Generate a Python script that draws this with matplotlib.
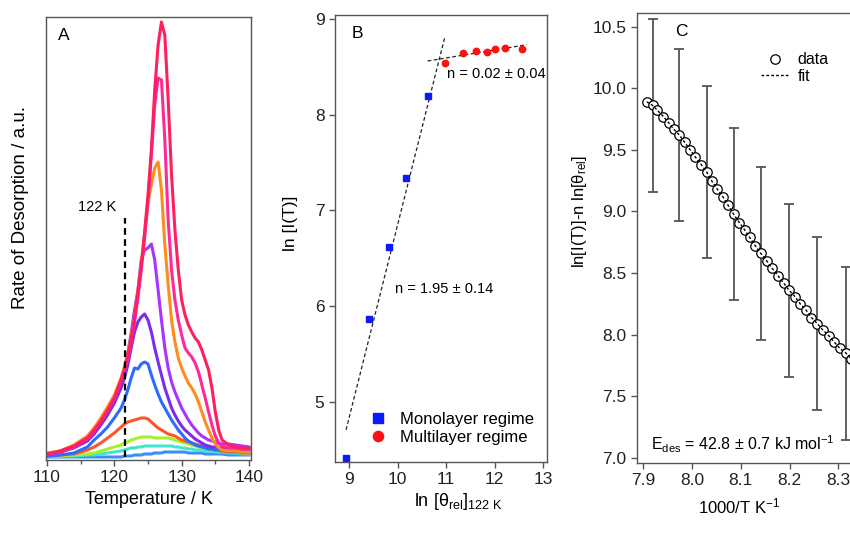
import numpy as np
import matplotlib
matplotlib.use("Agg")
import matplotlib.pyplot as plt

plt.rcParams['font.family'] = ['Liberation Sans', 'DejaVu Sans']
plt.rcParams['mathtext.fontset'] = 'custom'
plt.rcParams['mathtext.rm'] = 'Liberation Sans'
plt.rcParams['mathtext.it'] = 'Liberation Sans'
plt.rcParams['mathtext.default'] = 'regular'

# ---- panel A: TPD traces (a.u.) ----
temp = [110, 112, 114, 116, 117, 118, 119, 120, 121, 121.5, 122, 122.5, 123, 123.5,
        124, 124.5, 125, 125.5, 126, 126.5, 127, 127.5, 128, 128.5, 129, 129.5, 130,
        130.5, 131, 131.5, 132, 132.5, 133, 133.5, 134, 134.5, 135, 135.5, 136, 137,
        138, 139, 140]

rate_lightblue = [3, 3, 3, 3, 3, 3, 3, 3, 3, 4, 4, 4, 5, 5, 5, 6, 6, 6, 7, 7, 7, 8, 8, 8,
                  8, 8, 8, 8, 7, 7, 7, 7, 7, 6, 6, 6, 6, 6, 6, 5, 5, 5, 5]
rate_cyan = [4, 4, 4, 5, 5, 6, 7, 8, 9, 10, 11, 12, 12, 13, 13, 14, 14, 14, 14, 14, 14, 14,
             14, 14, 13, 13, 12, 12, 11, 11, 10, 10, 10, 9, 9, 9, 8, 8, 8, 7, 7, 6, 6]
rate_green = [4, 4, 5, 6, 7, 9, 11, 13, 15, 17, 18, 20, 21, 22, 23, 23, 23, 23, 22, 22, 22,
              22, 22, 21, 20, 19, 18, 17, 16, 15, 14, 13, 12, 12, 11, 11, 10, 10, 9, 8, 8, 7, 7]
rate_orangered = [4, 5, 6, 10, 13, 17, 22, 27, 33, 36, 38, 39, 40, 41, 42, 42, 41, 38, 35,
                  32, 30, 28, 26, 25, 24, 22, 20, 19, 18, 17, 16, 15, 14, 13, 12, 11, 10,
                  10, 9, 8, 8, 7, 7]
rate_blue = [4, 5, 7, 13, 20, 26, 33, 42, 52, 60, 70, 82, 92, 91, 96, 98, 96, 85, 75, 66,
             58, 52, 46, 40, 35, 30, 26, 22, 19, 17, 15, 14, 13, 12, 11, 11, 10, 10, 10, 9,
             9, 9, 9]
rate_violet = [6, 8, 12, 19, 26, 35, 45, 57, 72, 82, 95, 112, 128, 138, 143, 146, 140, 128,
               112, 98, 85, 72, 62, 52, 45, 39, 34, 30, 27, 24, 21, 19, 17, 15, 14, 13, 13,
               12, 12, 12, 12, 11, 11]
rate_purple = [6, 9, 14, 22, 30, 40, 50, 62, 80, 92, 107, 127, 150, 170, 200, 210, 212, 216,
               200, 170, 140, 112, 92, 78, 68, 60, 52, 46, 40, 35, 31, 27, 24, 22, 20, 19,
               18, 17, 16, 16, 15, 14, 13]
rate_orange = [7, 9, 15, 24, 32, 42, 53, 65, 82, 93, 106, 123, 143, 168, 196, 226, 258, 275,
               292, 298, 270, 215, 175, 140, 118, 102, 92, 84, 77, 72, 66, 58, 48, 38, 30,
               22, 16, 12, 10, 9, 9, 8, 8]
rate_pink = [6, 8, 13, 21, 29, 38, 49, 61, 79, 89, 101, 118, 138, 162, 190, 222, 258, 305,
             355, 382, 380, 320, 240, 190, 160, 140, 125, 112, 107, 103, 97, 88, 75, 62, 48,
             35, 24, 17, 14, 12, 12, 11, 11]
rate_red = [6, 9, 14, 22, 30, 39, 50, 62, 80, 91, 104, 121, 142, 167, 195, 228, 265, 310,
            370, 415, 438, 425, 360, 285, 230, 190, 160, 145, 135, 128, 122, 118, 110, 100,
            90, 72, 48, 30, 20, 15, 13, 12, 12]

traces = [rate_lightblue, rate_cyan, rate_green, rate_orangered, rate_blue,
          rate_violet, rate_purple, rate_orange, rate_pink, rate_red]
trace_colors = ['#3a8cff', '#3ee6d2', '#a6f02a', '#ff5528', '#2b6bff',
                '#7a2cf0', '#a834ff', '#ff8c1e', '#ff2a9a', '#ff1f5f']

cut_temp = 121.6
cut_range = [3, 242]

# ---- panel B: reaction order ----
mono_x = [8.94, 9.42, 9.82, 10.17, 10.63]
mono_y = [4.42, 5.87, 6.62, 7.34, 8.19]
multi_x = [10.98, 11.34, 11.61, 11.85, 12.00, 12.22, 12.57]
multi_y = [8.54, 8.64, 8.66, 8.65, 8.69, 8.70, 8.69]
mono_fit_x = [8.94, 10.97]
mono_fit_y = [4.71, 8.80]
multi_fit_x = [10.62, 12.66]
multi_fit_y = [8.56, 8.73]

# ---- panel C: Arrhenius-type plot ----
inv_t = [7.907, 7.919, 7.929, 7.941, 7.952, 7.962, 7.974, 7.985, 7.996, 8.007, 8.019,
         8.030, 8.040, 8.052, 8.063, 8.074, 8.085, 8.097, 8.108, 8.118, 8.130, 8.141,
         8.153, 8.164, 8.176, 8.188, 8.199, 8.211, 8.222, 8.234, 8.245, 8.257, 8.268,
         8.281, 8.292, 8.303, 8.316, 8.327]
ln_val = [9.89, 9.86, 9.82, 9.77, 9.72, 9.67, 9.62, 9.56, 9.50, 9.44, 9.38, 9.32, 9.25,
          9.18, 9.12, 9.05, 8.98, 8.91, 8.85, 8.79, 8.72, 8.66, 8.60, 8.54, 8.48, 8.42,
          8.36, 8.31, 8.25, 8.20, 8.14, 8.09, 8.04, 7.99, 7.94, 7.89, 7.85, 7.80]
err_x = [7.919, 7.974, 8.030, 8.085, 8.141, 8.199, 8.257, 8.316]
err_y = [9.86, 9.62, 9.32, 8.98, 8.66, 8.36, 8.09, 7.85]
err_size = [0.70, 0.70, 0.70, 0.70, 0.70, 0.70, 0.70, 0.70]

frame_col = '#555555'

fig = plt.figure(figsize=(8.5, 5.48), dpi=100)
axA = fig.add_axes([0.0541, 0.1606, 0.2412, 0.8084])
axB = fig.add_axes([0.394, 0.157, 0.2495, 0.8156])
axC = fig.add_axes([0.7494, 0.1551, 0.2506, 0.8212])

for ax in (axA, axB, axC):
    for s in ax.spines.values():
        s.set_color(frame_col)
        s.set_linewidth(1.0)
    ax.tick_params(direction='out', color=frame_col, length=4, width=1.0,
                   labelsize=12.5, labelcolor='#222222')

# A
for tr, c in zip(traces, trace_colors):
    axA.plot(temp, tr, color=c, lw=2.2, solid_joinstyle='round')
axA.plot([cut_temp, cut_temp], cut_range, color='black', lw=1.6, ls=(0, (3, 2)))
axA.text(120.3, 253, '122 K', ha='right', va='center', fontsize=10.5)
axA.text(0.06, 0.975, 'A', transform=axA.transAxes, ha='left', va='top', fontsize=12.5)
axA.set_xlim(109.85, 140.3)
axA.set_ylim(0, 443)
axA.set_xticks([110, 120, 130, 140])
axA.set_xticks([115, 125, 135], minor=True)
axA.tick_params(which='minor', direction='out', color=frame_col, length=3, width=1.0)
axA.set_yticks([])
axA.set_xlabel('Temperature / K', fontsize=13, labelpad=4)
axA.set_ylabel('Rate of Desorption / a.u.', fontsize=13.5)
axA.yaxis.set_label_coords(-0.085, 0.57)

# B
axB.plot(mono_fit_x, mono_fit_y, color='#222222', lw=0.9, ls=(0, (3, 2)))
axB.plot(multi_fit_x, multi_fit_y, color='#222222', lw=0.9, ls=(0, (3, 2)))
axB.plot(mono_x, mono_y, ls='none', marker='s', ms=4.3, color='#0a1aff',
         label='Monolayer regime')
axB.plot(multi_x, multi_y, ls='none', marker='o', ms=4.6, color='#ff1010',
         label='Multilayer regime')
axB.text(11.02, 8.42, 'n = 0.02 \u00b1 0.04', ha='left', va='center', fontsize=10.5)
axB.text(9.95, 6.18, 'n = 1.95 \u00b1 0.14', ha='left', va='center', fontsize=10.5)
axB.text(0.08, 0.975, 'B', transform=axB.transAxes, ha='left', va='top', fontsize=12.5)
axB.legend(loc='lower left', bbox_to_anchor=(0.095, 0.005), frameon=False, fontsize=12,
           markerscale=1.6, handlelength=1.0, handletextpad=0.8, labelspacing=0.15)
axB.set_xlim(8.71, 13.08)
axB.set_ylim(4.375, 9.04)
axB.set_xticks([9, 10, 11, 12, 13])
axB.set_yticks([5, 6, 7, 8, 9])
axB.set_xlabel(r'ln [$\theta_{rel}$]$_{122\ K}$', fontsize=13)
axB.xaxis.set_label_coords(0.58, -0.065)
axB.set_ylabel('ln [I(T)]', fontsize=12.5)
axB.yaxis.set_label_coords(-0.175, 0.535)

# C
axC.errorbar(err_x, err_y, yerr=err_size, fmt='none', ecolor='#555555', elinewidth=1.3,
             capsize=3.5, capthick=1.3)
axC.plot(inv_t, ln_val, ls='none', marker='o', ms=6.8, mfc='white', mec='black', mew=0.9,
         label='data')
axC.plot(inv_t, ln_val, color='black', lw=1.0, ls=(0, (2, 1.5)), label='fit')
axC.text(0.18, 0.975, 'C', transform=axC.transAxes, ha='left', va='top', fontsize=12.5)
axC.text(7.915, 7.11, r'E$_{des}$ = 42.8 $\pm$ 0.7 kJ mol$^{-1}$', ha='left',
         va='center', fontsize=11.5)
axC.legend(loc='upper left', bbox_to_anchor=(0.515, 0.945), frameon=False, fontsize=11.5,
           handlelength=1.7, handletextpad=0.6, labelspacing=0.1)
axC.set_xlim(7.887, 8.324)
axC.set_ylim(6.96, 10.61)
axC.set_xticks([7.9, 8.0, 8.1, 8.2, 8.3])
axC.set_xticklabels(['7.9', '8.0', '8.1', '8.2', '8.3'])
axC.set_yticks([7.0, 7.5, 8.0, 8.5, 9.0, 9.5, 10.0, 10.5])
axC.set_yticklabels(['7.0', '7.5', '8.0', '8.5', '9.0', '9.5', '10.0', '10.5'])
axC.spines['right'].set_visible(False)
axC.set_xlabel(r'1000/T K$^{-1}$', fontsize=12)
axC.xaxis.set_label_coords(0.48, -0.075)
axC.set_ylabel(r'ln[I(T)]-n ln[$\theta_{rel}$]', fontsize=12)
axC.yaxis.set_label_coords(-0.225, 0.56)

fig.savefig('out.png', dpi=100)
